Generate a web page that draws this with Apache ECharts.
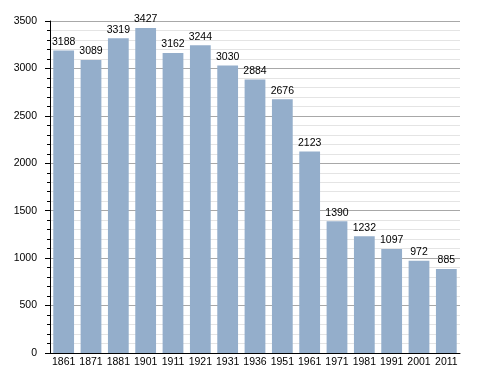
<!DOCTYPE html>
<html><head><meta charset="utf-8">
<script src="https://cdn.jsdelivr.net/npm/echarts@6/dist/echarts.min.js"></script>
<style>html,body{margin:0;padding:0;background:#fff}#c{width:488px;height:373px}</style>
</head><body><div id="c"></div>
<script>
var years = ['1861','1871','1881','1901','1911','1921','1931','1936','1951','1961','1971','1981','1991','2001','2011'];
var population = [3188,3089,3319,3427,3162,3244,3030,2884,2676,2123,1390,1232,1097,972,885];
var yTicks = {min:0, max:3500, interval:500};
var font = 'Liberation Sans, Arial';
var chart = echarts.init(document.getElementById('c'));
chart.setOption({
  animation:false,
  grid:{left:50,right:28,top:21,bottom:20,containLabel:false},
  xAxis:{type:'category',data:years,
    axisLine:{lineStyle:{color:'#000',width:1}},
    axisTick:{show:false},
    axisLabel:{color:'#000',fontSize:10.5,fontFamily:font,margin:4,interval:0}},
  yAxis:{type:'value',min:yTicks.min,max:yTicks.max,interval:yTicks.interval,
    axisLine:{show:true,lineStyle:{color:'#000',width:1}},
    axisTick:{show:true,length:5,lineStyle:{color:'#000'}},
    minorTick:{show:true,splitNumber:5,length:3,lineStyle:{color:'#000'}},
    splitLine:{lineStyle:{color:'#a8a8a8',width:1}},
    minorSplitLine:{show:true,lineStyle:{color:'#e4e4e4',width:1}},
    axisLabel:{color:'#000',fontSize:10.5,fontFamily:font,margin:13,formatter:function(v){return String(v);}}},
  series:[{type:'bar',data:population,barCategoryGap:'24%',
    itemStyle:{color:'#94aecb'},
    label:{show:true,position:'top',color:'#000',fontSize:10.5,fontFamily:font,distance:3}}]
});
</script></body></html>
